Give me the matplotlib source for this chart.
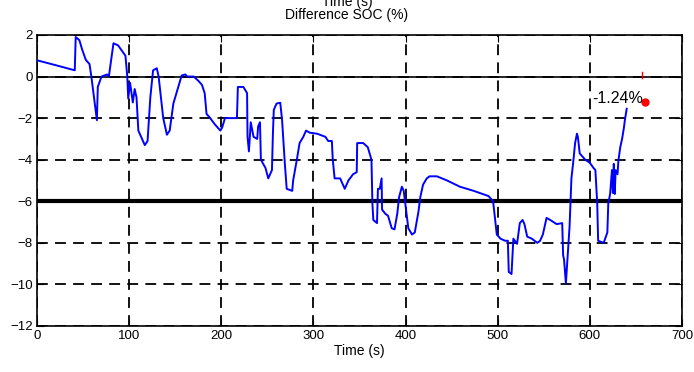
import numpy as np
import matplotlib
matplotlib.use('Agg')
import matplotlib.pyplot as plt

plt.rcParams['font.family'] = ['Liberation Sans Narrow', 'Liberation Sans', 'DejaVu Sans']

#%% traced data: time (s) vs SOC difference (%)
t = [1, 20, 41, 42, 46, 49, 53, 57, 59, 65, 66, 70, 76, 78, 83, 88, 92, 96, 98, 99,
     101, 104, 106, 108, 110, 117, 120, 123, 126, 130, 132, 137, 141, 144, 148, 152,
     157, 161, 163, 170, 175, 179, 182, 184, 188, 193, 199, 201, 204, 217, 218, 224,
     228, 228.5, 230, 232, 235, 239, 240, 242, 243, 248, 251, 255, 256, 257, 260, 264,
     266, 269, 271, 277, 278, 282, 285, 289, 292, 296, 304, 313, 316, 320, 321, 323,
     329, 332, 334, 338, 343, 347, 347.5, 354, 359, 363, 364, 365, 369, 370, 372, 374,
     374.5, 378, 381, 385, 388, 391, 393, 396, 398, 401, 403, 407, 410, 414, 416, 419,
     423, 426, 434, 445, 459, 474, 490, 495, 497, 499, 503, 508, 511, 512, 515, 517,
     521, 524, 527, 529, 532, 537, 543, 546, 549, 553, 557, 564, 570, 571, 572, 574,
     578, 580, 582, 584, 586, 587, 589, 595, 600, 604, 606, 608, 609, 615, 619, 620,
     622, 624, 625, 626, 627, 628, 630, 631, 633, 635, 637, 638, 640]
soc = [0.77, 0.55, 0.3, 1.9, 1.75, 1.3, 0.8, 0.6, 0.0, -2.1, -0.5, 0.0, 0.1, 0.0, 1.6,
       1.5, 1.25, 1.0, 0.0, -1.06, -0.3, -1.25, -0.6, -1.0, -2.6, -3.3, -3.1, -1.0, 0.3,
       0.4, 0.0, -2.0, -2.8, -2.6, -1.3, -0.7, 0.05, 0.1, 0.0, 0.0, -0.2, -0.4, -0.8,
       -1.8, -2.0, -2.3, -2.6, -2.45, -2.0, -2.0, -0.5, -0.5, -0.8, -2.9, -3.6, -2.2,
       -2.9, -3.0, -2.4, -2.2, -4.0, -4.4, -4.9, -4.5, -2.8, -1.6, -1.3, -1.26, -2.1,
       -4.2, -5.4, -5.5, -5.0, -4.0, -3.2, -2.9, -2.6, -2.7, -2.75, -2.9, -3.1, -3.1,
       -4.0, -4.9, -4.9, -5.2, -5.4, -5.0, -4.7, -4.6, -3.2, -3.2, -3.4, -4.0, -6.1,
       -6.9, -7.05, -5.4, -5.4, -4.9, -6.4, -6.6, -6.7, -7.3, -7.35, -6.6, -5.8, -5.3,
       -5.5, -6.6, -7.3, -7.6, -7.5, -6.5, -5.8, -5.2, -4.9, -4.8, -4.8, -5.0, -5.3,
       -5.5, -5.75, -6.0, -6.8, -7.6, -7.8, -7.9, -7.9, -9.4, -9.5, -7.8, -8.05, -7.05,
       -6.9, -7.1, -7.7, -7.8, -8.0, -7.9, -7.6, -6.8, -6.9, -7.1, -7.05, -8.6, -8.8,
       -9.95, -7.2, -4.9, -4.1, -3.2, -2.75, -2.9, -3.7, -4.0, -4.15, -4.4, -4.5, -6.1,
       -7.9, -8.0, -7.5, -6.1, -5.65, -4.5, -5.6, -4.2, -5.65, -4.5, -4.7, -4.05, -3.4,
       -3.0, -2.45, -2.1, -1.55]

final_t = 660
final_soc = -1.24
threshold = -6

xticks = np.arange(0, 701, 100)
yticks = np.arange(-12, 3, 2)

#%% figure
fig = plt.figure(figsize=(6.94, 3.72), dpi=100)
ax = fig.add_axes([0.0533, 0.1237, 0.9294, 0.7823])

ax.plot(t, soc, color='#0000ff', lw=1.4, zorder=3)
ax.axhline(0, color='black', lw=1.2, zorder=2)
ax.axhline(threshold, color='black', lw=3, zorder=2)
ax.plot(final_t, final_soc, 'o', color='red', ms=5, zorder=4)
ax.plot([final_t - 3, final_t - 3], [-0.05, 0.2], color='red', lw=1, zorder=4)
ax.text(final_t - 2, -1.05, '-1.24%', ha='right', va='center',
        fontsize=11.5, zorder=5)

ax.set_xlim(0, 700)
ax.set_ylim(-12, 2)
ax.set_xticks(xticks)
ax.set_yticks(yticks)
ax.tick_params(direction='in', top=True, right=True, length=5, labelsize=9.5, pad=3)
ax.grid(True, color='black', linestyle=(0, (6, 4)), lw=1.3)
for s in ax.spines.values():
    s.set_linewidth(1.2)

ax.set_xlabel('Time (s)', fontsize=10, labelpad=1)
fig.text(0.5, 0.96, 'Difference SOC (%)', ha='center', va='center', fontsize=10)
# upper title line is cut by the top edge in the original
fig.text(0.5, 0.995, 'Time (s)', ha='center', va='center', fontsize=10)

plt.savefig('out.png', dpi=100)
